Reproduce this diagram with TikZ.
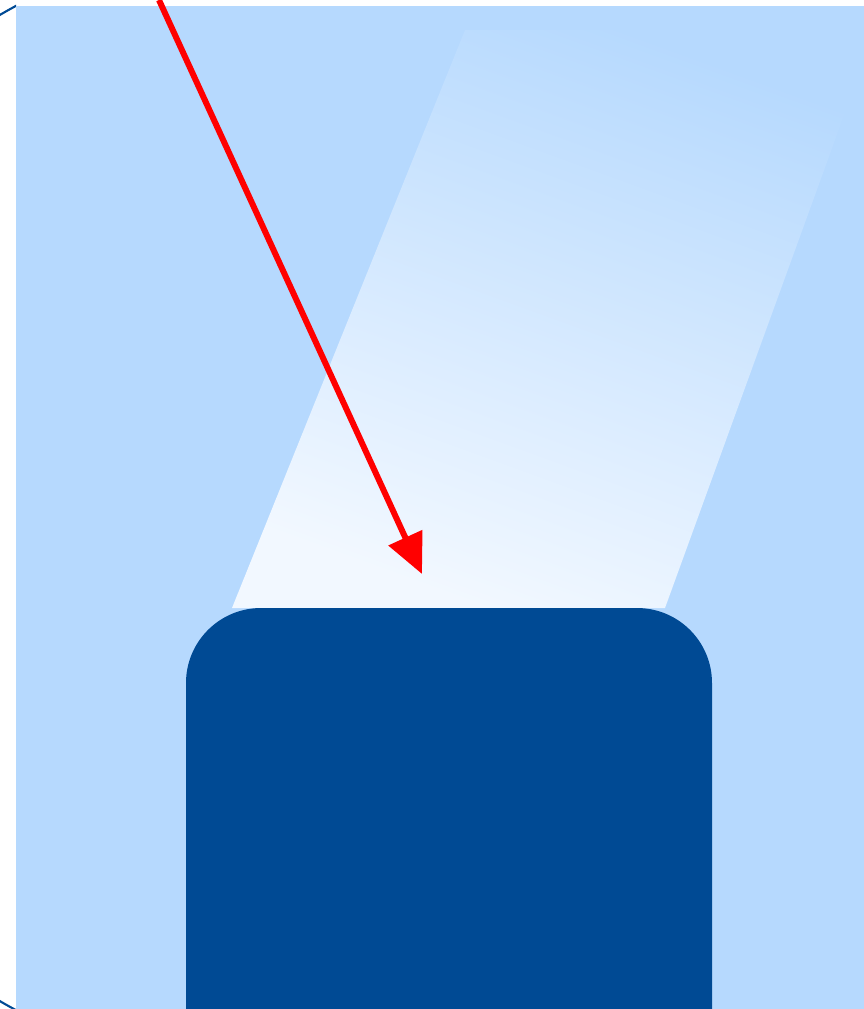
\documentclass[tikz,border=0pt]{standalone}
\usetikzlibrary{arrows.meta}

\definecolor{skyblue}{HTML}{B6D9FE}
\definecolor{beamwhite}{HTML}{F2F8FF}
\definecolor{deepblue}{HTML}{004A94}
\definecolor{rayred}{HTML}{FF0000}

\begin{document}
\begin{tikzpicture}[
    x=0.02cm,y=-0.02cm,
    backdrop/.style={fill=skyblue},
    ring/.style={draw=deepblue, line width=1.2pt},
    beam/.style={top color=skyblue, bottom color=beamwhite, shading angle=-20},
    block/.style={fill=deepblue, rounded corners=1.5cm},
    ray/.style={draw=rayred, line width=3.4pt, -{Triangle[length=0.8cm,width=0.72cm]}}
]
    \useasboundingbox (0,0) rectangle (864,1009);
    \clip (0,0) rectangle (864,1009);

    % ================= RING =================
    \begin{scope}
        \clip (0,0) rectangle (16,1009);
        \draw[ring] (286,508) circle [radius=570];
    \end{scope}

    % ================= BACKDROP =================
    \fill[backdrop] (16,6) rectangle (864,1009);

    % ================= BEAM =================
    \shade[beam] (232,608) -- (665,608) -- (875,30) -- (465,30) -- cycle;

    % ================= BLOCK =================
    \fill[block] (186,1100) -- (186,608) -- (712,608) -- (712,1100) -- cycle;

    % ================= RAY =================
    \coordinate (ray start) at (159,0);
    \coordinate (ray tip) at (422,574);
    \draw[ray] (ray start) -- (ray tip);

\end{tikzpicture}
\end{document}
